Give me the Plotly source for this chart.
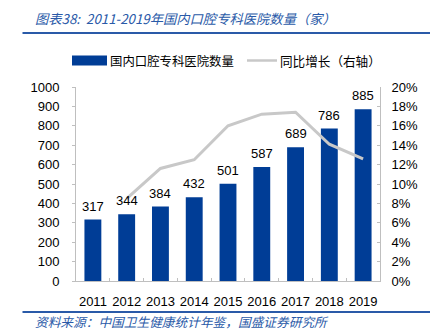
import plotly.graph_objects as go

years = ["2011", "2012", "2013", "2014", "2015", "2016", "2017", "2018", "2019"]
hospitals = [317, 344, 384, 432, 501, 587, 689, 786, 885]
growth = [None, 8.5, 11.6, 12.5, 16.0, 17.2, 17.4, 14.1, 12.6]  # percent
left_ticks = [0, 100, 200, 300, 400, 500, 600, 700, 800, 900, 1000]
right_ticks = [0, 2, 4, 6, 8, 10, 12, 14, 16, 18, 20]

W, H = 439, 335
L, R, T, B = 76, 59, 87, 54
PW, PH = W - L - R, H - T - B

def px(x):
    return (x - L) / PW

def py(y):
    return (H - B - y) / PH

BLUE = "#003d96"
GRAY = "#c8c8c8"
AXIS = "#bfbfbf"
NUMFONT = "Tahoma, Liberation Sans, Arial, sans-serif"
CJK = "Noto Sans CJK SC, sans-serif"
TITLEBLUE = "#2a5aa8"

fig = go.Figure()
fig.add_trace(go.Bar(x=years, y=hospitals, marker=dict(color=BLUE, line=dict(width=0)),
                     name="国内口腔专科医院数量", showlegend=False))
fig.add_trace(go.Scatter(x=years, y=growth, yaxis="y2", mode="lines",
                         line=dict(color=GRAY, width=3), name="同比增长（右轴）",
                         showlegend=False, connectgaps=False))

annotations = []
for i, v in enumerate(hospitals):
    annotations.append(dict(x=i, y=v, xref="x", yref="y", text=str(v), showarrow=False,
                            yanchor="bottom", yshift=4,
                            font=dict(family=NUMFONT, size=13, color="#000")))

# title and source
annotations.append(dict(x=px(33), y=py(19), xref="paper", yref="paper", xanchor="left",
                        yanchor="middle", showarrow=False,
                        text="<i>图表38:  2011-2019年国内口腔专科医院数量（家）</i>",
                        font=dict(family=CJK, size=13.3, color=TITLEBLUE)))
annotations.append(dict(x=px(33), y=py(321), xref="paper", yref="paper", xanchor="left",
                        yanchor="middle", showarrow=False,
                        text="<i>资料来源：中国卫生健康统计年鉴，国盛证券研究所</i>",
                        font=dict(family=CJK, size=12.7, color=TITLEBLUE)))
# legend texts
annotations.append(dict(x=px(108), y=py(60.5), xref="paper", yref="paper", xanchor="left",
                        yanchor="middle", showarrow=False, text="国内口腔专科医院数量",
                        font=dict(family=CJK, size=12.4, color="#000")))
annotations.append(dict(x=px(278), y=py(60.5), xref="paper", yref="paper", xanchor="left",
                        yanchor="middle", showarrow=False, text="同比增长（右轴）",
                        font=dict(family=CJK, size=12.6, color="#000")))

shapes = [
    dict(type="line", xref="paper", yref="paper", x0=px(22.5), x1=px(430), y0=py(33), y1=py(33),
         line=dict(color=TITLEBLUE, width=2)),
    dict(type="line", xref="paper", yref="paper", x0=px(22.5), x1=px(430), y0=py(312), y1=py(312),
         line=dict(color=TITLEBLUE, width=2)),
    dict(type="rect", xref="paper", yref="paper", x0=px(72), x1=px(107), y0=py(65.5), y1=py(55.5),
         fillcolor=BLUE, line=dict(width=0)),
    dict(type="line", xref="paper", yref="paper", x0=px(247), x1=px(277), y0=py(60.5), y1=py(60.5),
         line=dict(color=GRAY, width=2.5)),
]

fig.update_layout(
    width=W, height=H, margin=dict(l=L, r=R, t=T, b=B, pad=0),
    paper_bgcolor="white", plot_bgcolor="white",
    bargap=0.5, showlegend=False,
    annotations=annotations, shapes=shapes,
    xaxis=dict(type="category", range=[-0.5, len(years) - 0.5], showgrid=False,
               showline=True, linecolor=AXIS, linewidth=1,
               ticks="inside", ticklen=3, tickcolor=AXIS, tickson="boundaries", tickangle=0,
               tickfont=dict(family=NUMFONT, size=13, color="#000"), ticklabelstandoff=8),
    yaxis=dict(range=[0, 1000], tickvals=left_ticks, showgrid=False, zeroline=False,
               showline=True, linecolor=AXIS, linewidth=1, ticks="outside", ticklen=3,
               tickcolor=AXIS, ticklabelstandoff=10,
               tickfont=dict(family=NUMFONT, size=13, color="#000")),
    yaxis2=dict(range=[0, 20], tickvals=right_ticks, ticktext=[f"{t}%" for t in right_ticks],
                overlaying="y", side="right", showgrid=False, zeroline=False,
                showline=True, linecolor=AXIS, linewidth=1, ticks="inside", ticklen=3,
                tickcolor=AXIS, ticklabelstandoff=8,
                tickfont=dict(family=NUMFONT, size=13, color="#000")),
)

fig.write_html("out.html")
